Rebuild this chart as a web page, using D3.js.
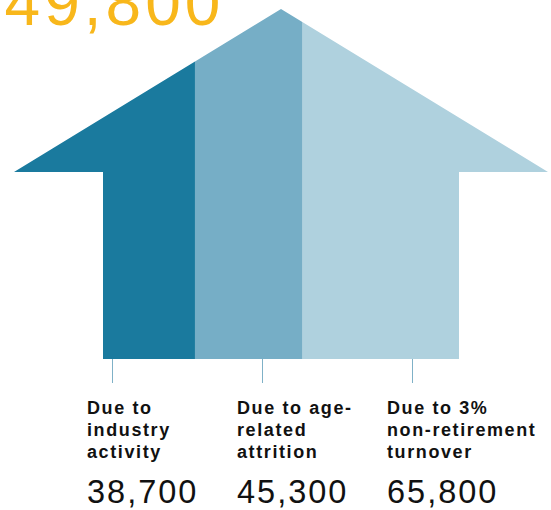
<!DOCTYPE html>
<html>
<head>
<meta charset="utf-8">
<script src="https://cdn.jsdelivr.net/npm/d3@7"></script>
<style>
  html, body { margin: 0; padding: 0; background: #ffffff; }
  svg { display: block; }
  text { font-family: "Liberation Sans", Arial, Helvetica, sans-serif; }
</style>
</head>
<body>
<svg id="chart" width="551" height="510"></svg>
<script>
// Sources of the required workforce
const categories = ["industry", "attrition", "turnover"];
const labelLines = [
  ["Due to", "industry", "activity"],
  ["Due to age-", "related", "attrition"],
  ["Due to 3%", "non-retirement", "turnover"]
];
const values = [38700, 45300, 65800];
const colors = ["#1a7a9e", "#76aec6", "#afd1de"];

const total = d3.sum(values);
const fmt = d3.format(",");

const svg = d3.select("#chart");
const W = 551, H = 510;

// House geometry
const body = { left: 103, right: 459, bottom: 359, shoulder: 172, apex: 9 };
const wing = 89;

// Horizontal scale: cumulative workforce across the body of the house
const x = d3.scaleLinear().domain([0, total]).range([body.left, body.right]);

const starts = d3.cumsum([0].concat(values.slice(0, -1)));
const segments = values.map((v, i) => ({
  key: categories[i], value: v, x0: starts[i], x1: starts[i] + v, color: colors[i]
}));

const mid = x(total / 2);
const outline = [
  [mid, body.apex],
  [x(total) + wing, body.shoulder],
  [x(total), body.shoulder],
  [x(total), body.bottom],
  [x(0), body.bottom],
  [x(0), body.shoulder],
  [x(0) - wing, body.shoulder]
];

svg.append("clipPath").attr("id", "house")
  .append("polygon")
  .attr("points", outline.map(p => p.join(",")).join(" "));

const house = svg.append("g").attr("clip-path", "url(#house)");

house.selectAll("rect")
  .data(segments)
  .join("rect")
  .attr("x", (d, i) => i === 0 ? 0 : x(d.x0))
  .attr("y", 0)
  .attr("width", (d, i) => {
    const a = i === 0 ? 0 : x(d.x0);
    const b = i === segments.length - 1 ? W : x(d.x1);
    return b - a;
  })
  .attr("height", body.bottom)
  .attr("fill", d => d.color);

// Total, in gold at the top
svg.append("text")
  .attr("x", -35)
  .attr("y", 25)
  .attr("font-size", 64)
  .attr("letter-spacing", "4px")
  .attr("fill", "#f8b71b")
  .text(fmt(total));

// Label columns beneath the house
const col = d3.scalePoint().domain(categories).range([87, 387]);

const labels = svg.selectAll("g.label")
  .data(segments)
  .join("g")
  .attr("class", "label")
  .attr("transform", d => `translate(${col(d.key)},0)`);

labels.append("line")
  .attr("x1", 25.5).attr("x2", 25.5)
  .attr("y1", body.bottom).attr("y2", 383)
  .attr("stroke", "#7fb1c7")
  .attr("stroke-width", 1);

labels.each(function(d, i) {
  const g = d3.select(this);
  labelLines[i].forEach((line, j) => {
    g.append("text")
      .attr("x", 0)
      .attr("y", 414 + j * 22)
      .attr("font-size", 18)
      .attr("font-weight", "bold")
      .attr("letter-spacing", "1.6px")
      .attr("fill", "#111111")
      .text(line);
  });
});

labels.append("text")
  .attr("x", 0)
  .attr("y", 503)
  .attr("font-size", 32.5)
  .attr("letter-spacing", "2px")
  .attr("fill", "#111111")
  .text(d => fmt(d.value));
</script>
</body>
</html>
